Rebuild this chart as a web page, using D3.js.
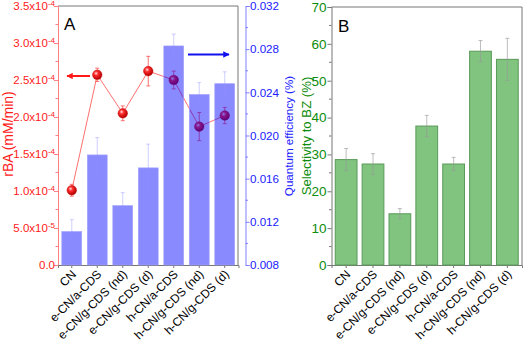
<!DOCTYPE html>
<html>
<head>
<meta charset="utf-8">
<script src="https://cdn.jsdelivr.net/npm/d3@7"></script>
<style>
	body { margin: 0; background: #fff; }
	svg { font-family: "Liberation Sans", Arial, sans-serif; }
</style>
</head>
<body>
<svg width="524" height="353"></svg>
<script>
const categories = ["CN", "e-CN/a-CDS", "e-CN/g-CDS (nd)", "e-CN/g-CDS (d)", "h-CN/a-CDS", "h-CN/g-CDS (nd)", "h-CN/g-CDS (d)"]
const rateBA = [1.01e-4, 2.57e-4, 2.05e-4, 2.62e-4, 2.50e-4, 1.87e-4, 2.02e-4]
const rateErr = [0.08e-4, 0.09e-4, 0.10e-4, 0.20e-4, 0.12e-4, 0.19e-4, 0.11e-4]
const quantumEff = [0.0111, 0.0182, 0.0135, 0.0170, 0.0283, 0.0238, 0.0248]
const quantumErr = [0.0011, 0.0016, 0.0012, 0.0022, 0.0011, 0.0011, 0.0011]
const selectivity = [28.6, 27.4, 13.9, 37.7, 27.4, 58.0, 55.8]
const selectErr = [3.0, 2.8, 1.4, 2.9, 1.8, 2.9, 5.7]
const rateTicks = [[0, "0.0", ""], [0.5e-4, "5.0x10", "-5"], [1e-4, "1.0x10", "-4"], [1.5e-4, "1.5x10", "-4"],
	[2e-4, "2.0x10", "-4"], [2.5e-4, "2.5x10", "-4"], [3e-4, "3.0x10", "-4"], [3.5e-4, "3.5x10", "-4"]]
const qeTicks = [0.008, 0.012, 0.016, 0.020, 0.024, 0.028, 0.032]
const selTicks = [0, 10, 20, 30, 40, 50, 60, 70]

const RED = "#ff1a1a", BLUE = "#2020ff", GREEN = "#0c8c0c", FRAME = "#777"
const plotTop = 6, plotBottom = 265

const svg = d3.select("svg")
const defs = svg.append("defs")
const grad = defs.append("radialGradient").attr("id", "ball").attr("cx", "38%").attr("cy", "35%").attr("r", "65%")
grad.append("stop").attr("offset", "0%").attr("stop-color", "#ffe0e0")
grad.append("stop").attr("offset", "35%").attr("stop-color", "#ff2a2a")
grad.append("stop").attr("offset", "100%").attr("stop-color", "#b00000")

function arrowHead(id, color){
	defs.append("marker").attr("id", id).attr("viewBox", "0 0 10 10")
		.attr("refX", 9).attr("refY", 5).attr("markerWidth", 4).attr("markerHeight", 3.2)
		.attr("orient", "auto").attr("markerUnits", "strokeWidth")
		.append("path").attr("d", "M0,0L10,5L0,10z").attr("fill", color)
}
arrowHead("arrRed", RED)
arrowHead("arrBlue", "#1010ee")

// ---------- panel A ----------
const xA = d3.scaleBand().domain(categories).range([58, 238.5]).paddingInner(0.22).paddingOuter(0.15)
const yRate = d3.scaleLinear().domain([0, 3.5e-4]).range([plotBottom, plotTop])
const yQE = d3.scaleLinear().domain([0.008, 0.032]).range([plotBottom, plotTop])
const gA = svg.append("g")

// frame
gA.append("path").attr("d", `M58,${plotTop}H238V${plotBottom}`).attr("fill", "none").attr("stroke", FRAME)

// left red axis
const rateAxis = gA.append("g").attr("transform", "translate(58,0)")
	.call(d3.axisLeft(yRate).tickValues(rateTicks.map(d => d[0])).tickSize(4).tickFormat(""))
rateAxis.selectAll("line, path").attr("stroke", "#ff8080")
rateAxis.append("g").selectAll("line").data(rateTicks.slice(1)).enter().append("line")
	.attr("x1", -2.5).attr("x2", 0).attr("y1", d => yRate(d[0] - 0.25e-4)).attr("y2", d => yRate(d[0] - 0.25e-4))
	.attr("stroke", "#ff8080")
const rtl = gA.append("g").selectAll("text").data(rateTicks).enter().append("text")
	.attr("x", 55).attr("y", d => yRate(d[0]) + 4)
	.attr("text-anchor", "end").attr("fill", RED).attr("font-size", 11.5)
rtl.append("tspan").text(d => d[1])
rtl.append("tspan").attr("dy", -4.5).attr("font-size", 8).text(d => d[2])

// right blue axis
const qeAxis = gA.append("g").attr("transform", "translate(245.5,0)")
	.call(d3.axisRight(yQE).tickValues(qeTicks).tickSize(4).tickFormat(d3.format(".3f")))
qeAxis.select("path").attr("stroke", "#8080ff")
qeAxis.selectAll("line").attr("stroke", "#8080ff")
qeAxis.selectAll("text").attr("fill", BLUE).attr("font-size", 11.6).attr("font-family", "Liberation Sans, Arial").attr("x", 4.5)
qeAxis.append("g").selectAll("line").data(qeTicks.slice(1)).enter().append("line")
	.attr("x1", 0).attr("x2", 2.5).attr("y1", d => yQE(d - 0.002)).attr("y2", d => yQE(d - 0.002))
	.attr("stroke", "#8080ff")

// bottom axis
const xAxisA = gA.append("g").attr("transform", `translate(0,${plotBottom})`)
	.call(d3.axisBottom(xA).tickSize(3).tickFormat(""))
xAxisA.selectAll("line, path").attr("stroke", FRAME)

// rBA line + points (under the bars)
const ptsA = categories.map((c, i) => ({ c, v: rateBA[i], e: rateErr[i] }))
gA.append("path").datum(ptsA)
	.attr("d", d3.line().x(d => xA(d.c) + xA.bandwidth() / 2).y(d => yRate(d.v)))
	.attr("fill", "none").attr("stroke", "#ff7070").attr("stroke-width", 1)
const errR = gA.append("g").selectAll("g").data(ptsA).enter().append("g")
	.attr("transform", d => `translate(${xA(d.c) + xA.bandwidth() / 2},0)`)
	.attr("stroke", "#ff5050").attr("stroke-width", 0.8)
errR.append("line").attr("y1", d => yRate(d.v + d.e)).attr("y2", d => yRate(d.v - d.e))
errR.append("line").attr("x1", -2).attr("x2", 2).attr("y1", d => yRate(d.v + d.e)).attr("y2", d => yRate(d.v + d.e))
errR.append("line").attr("x1", -2).attr("x2", 2).attr("y1", d => yRate(d.v - d.e)).attr("y2", d => yRate(d.v - d.e))
gA.append("g").selectAll("circle").data(ptsA).enter().append("circle")
	.attr("cx", d => xA(d.c) + xA.bandwidth() / 2).attr("cy", d => yRate(d.v))
	.attr("r", 4.8).attr("fill", "url(#ball)").attr("stroke", "#c00000").attr("stroke-width", 0.4)

// QE bars
const barsA = categories.map((c, i) => ({ c, v: quantumEff[i], e: quantumErr[i] }))
gA.append("g").selectAll("rect").data(barsA).enter().append("rect")
	.attr("x", d => xA(d.c)).attr("width", xA.bandwidth())
	.attr("y", d => yQE(d.v)).attr("height", d => plotBottom - yQE(d.v))
	.attr("fill", "#0000ff").attr("fill-opacity", 0.46)
	.attr("stroke", "#a0a0ff").attr("stroke-width", 0.6)
const errB = gA.append("g").selectAll("g").data(barsA).enter().append("g")
	.attr("transform", d => `translate(${xA(d.c) + xA.bandwidth() / 2},0)`)
	.attr("stroke", "#9090ff").attr("stroke-opacity", 0.55).attr("stroke-width", 0.8)
errB.append("line").attr("y1", d => yQE(d.v + d.e)).attr("y2", d => yQE(d.v - d.e))
errB.append("line").attr("x1", -2).attr("x2", 2).attr("y1", d => yQE(d.v + d.e)).attr("y2", d => yQE(d.v + d.e))
errB.append("line").attr("x1", -2).attr("x2", 2).attr("y1", d => yQE(d.v - d.e)).attr("y2", d => yQE(d.v - d.e))

// arrows
gA.append("line").attr("x1", 90).attr("x2", 67).attr("y1", 76).attr("y2", 76)
	.attr("stroke", RED).attr("stroke-width", 2).attr("marker-end", "url(#arrRed)")
gA.append("line").attr("x1", 188).attr("x2", 229).attr("y1", 54.5).attr("y2", 54.5)
	.attr("stroke", "#1010ee").attr("stroke-width", 2).attr("marker-end", "url(#arrBlue)")

gA.append("text").attr("x", 64).attr("y", 30).attr("font-size", 17).text("A")
gA.append("text").attr("transform", "translate(13,134) rotate(-90)").attr("text-anchor", "middle")
	.attr("fill", RED).attr("font-size", 14).text("rBA (mM/min)")
gA.append("text").attr("transform", "translate(293,136) rotate(-90)").attr("text-anchor", "middle")
	.attr("fill", BLUE).attr("font-size", 11.6).text("Quantum efficiency (%)")

gA.append("g").selectAll("text").data(categories).enter().append("text")
	.attr("transform", d => `translate(${xA(d) + xA.bandwidth() / 2 + 5},${plotBottom + 10}) rotate(-45)`)
	.attr("text-anchor", "end").attr("font-size", 12).text(d => d)

// ---------- panel B ----------
const xB = d3.scaleBand().domain(categories).range([331.5, 522]).paddingInner(0.19).paddingOuter(0.14)
const ySel = d3.scaleLinear().domain([0, 70]).range([plotBottom, 7])
const gB = svg.append("g")

gB.append("path").attr("d", `M331.5,7H522V${plotBottom}`).attr("fill", "none").attr("stroke", FRAME)
const selAxis = gB.append("g").attr("transform", "translate(331.5,0)")
	.call(d3.axisLeft(ySel).tickValues(selTicks).tickSize(4))
selAxis.selectAll("line, path").attr("stroke", FRAME)
selAxis.selectAll("text").attr("fill", GREEN).attr("font-size", 13.5).attr("font-family", "Liberation Sans, Arial").attr("x", -5)
selAxis.append("g").selectAll("line").data(selTicks.slice(1)).enter().append("line")
	.attr("x1", -2.5).attr("x2", 0).attr("y1", d => ySel(d - 5)).attr("y2", d => ySel(d - 5))
	.attr("stroke", FRAME)
const xAxisB = gB.append("g").attr("transform", `translate(0,${plotBottom})`)
	.call(d3.axisBottom(xB).tickSize(3).tickFormat(""))
xAxisB.selectAll("line, path").attr("stroke", FRAME)

const barsB = categories.map((c, i) => ({ c, v: selectivity[i], e: selectErr[i] }))
gB.append("g").selectAll("rect").data(barsB).enter().append("rect")
	.attr("x", d => xB(d.c)).attr("width", xB.bandwidth())
	.attr("y", d => ySel(d.v)).attr("height", d => plotBottom - ySel(d.v))
	.attr("fill", "#80c480").attr("stroke", "#5a9a5a").attr("stroke-width", 1)
const errG = gB.append("g").selectAll("g").data(barsB).enter().append("g")
	.attr("transform", d => `translate(${xB(d.c) + xB.bandwidth() / 2},0)`)
	.attr("stroke", "#999").attr("stroke-opacity", 0.8).attr("stroke-width", 0.8)
errG.append("line").attr("y1", d => ySel(d.v + d.e)).attr("y2", d => ySel(d.v - d.e))
errG.append("line").attr("x1", -2).attr("x2", 2).attr("y1", d => ySel(d.v + d.e)).attr("y2", d => ySel(d.v + d.e))
errG.append("line").attr("x1", -2).attr("x2", 2).attr("y1", d => ySel(d.v - d.e)).attr("y2", d => ySel(d.v - d.e))

gB.append("text").attr("x", 338).attr("y", 32).attr("font-size", 17).text("B")
gB.append("text").attr("transform", "translate(311,136) rotate(-90)").attr("text-anchor", "middle")
	.attr("fill", GREEN).attr("font-size", 13.2).text("Selectivity to BZ (%)")
gB.append("g").selectAll("text").data(categories).enter().append("text")
	.attr("transform", d => `translate(${xB(d) + xB.bandwidth() / 2 + 5},${plotBottom + 10}) rotate(-45)`)
	.attr("text-anchor", "end").attr("font-size", 12).text(d => d)
</script>
</body>
</html>
